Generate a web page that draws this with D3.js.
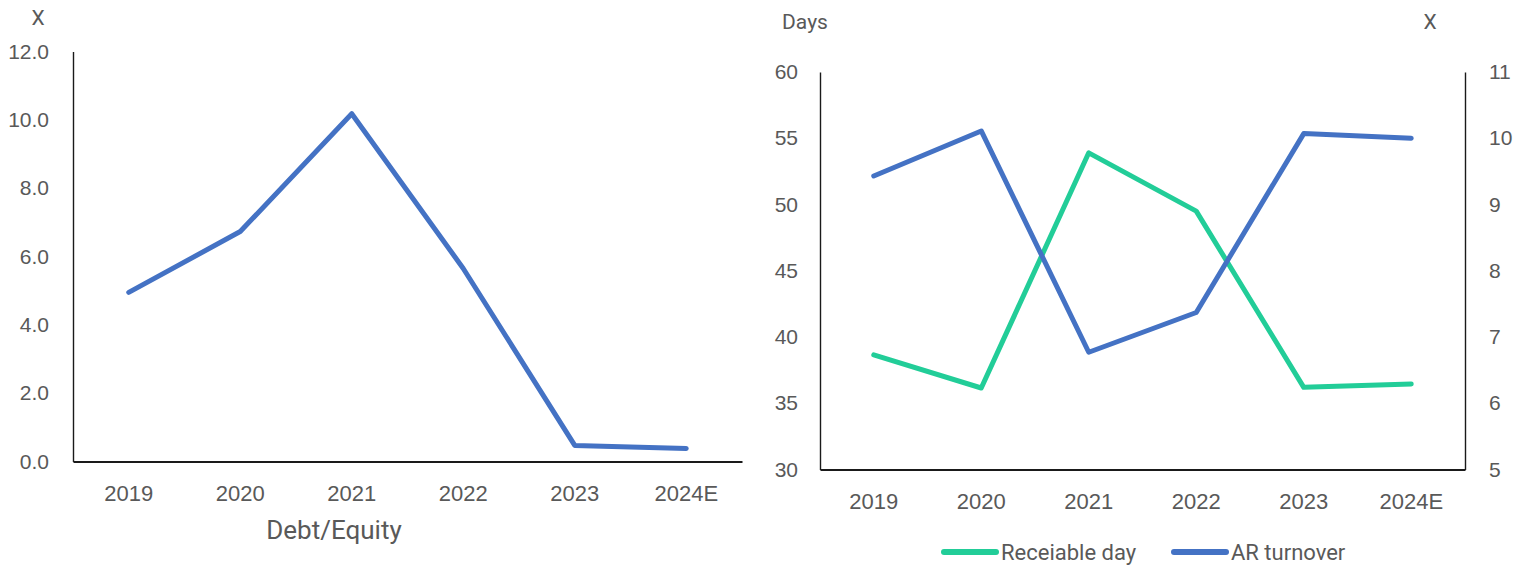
<!DOCTYPE html>
<html>
<head>
<meta charset="utf-8">
<script src="https://cdn.jsdelivr.net/npm/d3@7"></script>
<style>
  html, body { margin: 0; padding: 0; background: #fff; }
  svg { display: block; font-family: Roboto, "Noto Sans", sans-serif; }
  .tick text { fill: #595959; }
</style>
</head>
<body>
<svg id="chart" width="1520" height="567"></svg>
<script>
// Categories shared by both panels
const years = ["2019", "2020", "2021", "2022", "2023", "2024E"];

// Left panel: leverage
const debtEquity = [4.95, 6.73, 10.18, 5.65, 0.47, 0.38];
const leftTicks = [0, 2, 4, 6, 8, 10, 12];

// Right panel: receivables
const receivableDays = [38.65, 36.15, 53.9, 49.5, 36.2, 36.45];
const arTurnover = [9.43, 10.11, 6.77, 7.37, 10.07, 10.0];
const daysTicks = [30, 35, 40, 45, 50, 55, 60];
const turnoverTicks = [5, 6, 7, 8, 9, 10, 11];

const BLUE = "#4472C4";
const GREEN = "#22CD98";
const TEXT = "#595959";

const svg = d3.select("#chart");

function styleAxis(size) {
  return g => {
    g.select(".domain").attr("stroke", "#1a1a1a").attr("stroke-width", 1.4);
    g.selectAll(".tick line").remove();
    g.selectAll(".tick text").attr("font-size", size).attr("fill", TEXT);
  };
}

// ---------- Left panel: Debt/Equity ----------
{
  const x = d3.scaleBand().domain(years).range([73, 742]);
  const y = d3.scaleLinear().domain([0, 12]).range([461.5, 51.5]);

  svg.append("g")
    .attr("transform", "translate(73,0)")
    .call(d3.axisLeft(y).tickValues(leftTicks).tickFormat(d3.format(".1f")).tickSize(0).tickPadding(24))
    .call(styleAxis(21));

  svg.append("g")
    .attr("transform", "translate(0,461.5)")
    .call(d3.axisBottom(x).tickSize(0).tickPadding(24))
    .call(styleAxis(22))
    .call(g => g.select(".domain").attr("stroke-width", 2));

  const line = d3.line()
    .x((d, i) => x(years[i]) + x.bandwidth() / 2)
    .y(d => y(d));

  svg.append("path")
    .datum(debtEquity)
    .attr("d", line)
    .attr("fill", "none")
    .attr("stroke", BLUE)
    .attr("stroke-width", 5)
    .attr("stroke-linejoin", "round")
    .attr("stroke-linecap", "round");

  svg.append("text")
    .attr("x", 38).attr("y", 25)
    .attr("text-anchor", "middle")
    .attr("font-size", 21).attr("fill", TEXT)
    .text("X");

  svg.append("text")
    .attr("x", 334).attr("y", 539)
    .attr("text-anchor", "middle")
    .attr("font-size", 26).attr("fill", TEXT)
    .text("Debt/Equity");
}

// ---------- Right panel: Receivable days vs AR turnover ----------
{
  const x = d3.scaleBand().domain(years).range([820, 1465]);
  const yDays = d3.scaleLinear().domain([30, 60]).range([469.5, 72]);
  const yTurn = d3.scaleLinear().domain([5, 11]).range([469.5, 72]);

  svg.append("g")
    .attr("transform", "translate(820,0)")
    .call(d3.axisLeft(yDays).tickValues(daysTicks).tickFormat(d3.format("d")).tickSize(0).tickPadding(22))
    .call(styleAxis(21));

  svg.append("g")
    .attr("transform", "translate(1465,0)")
    .call(d3.axisRight(yTurn).tickValues(turnoverTicks).tickFormat(d3.format("d")).tickSize(0).tickPadding(24))
    .call(styleAxis(21));

  svg.append("g")
    .attr("transform", "translate(0,469.5)")
    .call(d3.axisBottom(x).tickSize(0).tickPadding(24))
    .call(styleAxis(22))
    .call(g => g.select(".domain").attr("stroke-width", 2));

  const cx = (d, i) => x(years[i]) + x.bandwidth() / 2;

  const series = [
    { name: "Receiable day", values: receivableDays, scale: yDays, color: GREEN },
    { name: "AR turnover", values: arTurnover, scale: yTurn, color: BLUE }
  ];

  series.forEach(s => {
    svg.append("path")
      .datum(s.values)
      .attr("d", d3.line().x(cx).y(d => s.scale(d)))
      .attr("fill", "none")
      .attr("stroke", s.color)
      .attr("stroke-width", 5)
      .attr("stroke-linejoin", "round")
      .attr("stroke-linecap", "round");
  });

  svg.append("text")
    .attr("x", 805).attr("y", 29)
    .attr("text-anchor", "middle")
    .attr("font-size", 21).attr("fill", TEXT)
    .text("Days");

  svg.append("text")
    .attr("x", 1430).attr("y", 29)
    .attr("text-anchor", "middle")
    .attr("font-size", 21).attr("fill", TEXT)
    .text("X");

  // Legend
  const legendX = [944, 1174];
  series.forEach((s, i) => {
    const g = svg.append("g").attr("transform", `translate(${legendX[i]},552)`);
    g.append("line")
      .attr("x1", 0).attr("x2", 52)
      .attr("stroke", s.color).attr("stroke-width", 6)
      .attr("stroke-linecap", "round");
    g.append("text")
      .attr("x", 57).attr("y", 8)
      .attr("font-size", 22).attr("fill", TEXT)
      .text(s.name);
  });
}
</script>
</body>
</html>
